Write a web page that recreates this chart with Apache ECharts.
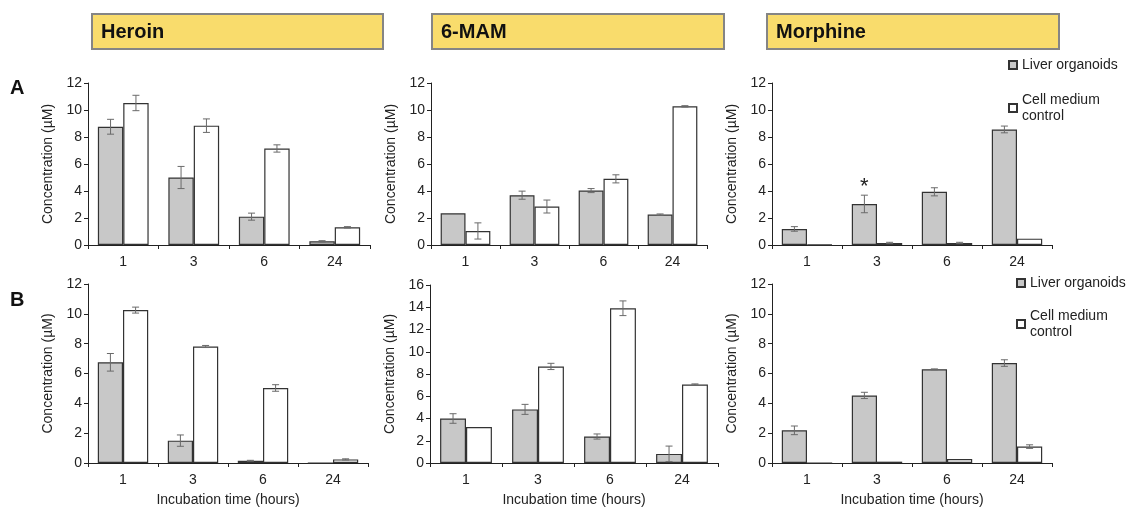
<!DOCTYPE html>
<html>
<head>
<meta charset="utf-8">
<script src="https://cdn.jsdelivr.net/npm/echarts@6/dist/echarts.min.js"></script>
<style>
* { margin: 0; padding: 0; }
body { background: #fff; }
#chart { width: 1129px; height: 508px; }
</style>
</head>
<body>
<div id="chart"></div>
<script>
// incubation time categories
const hours = ['1', '3', '6', '24'];

// row A
const heroinALiver = [8.76, 5.0, 2.1, 0.27];
const heroinALiverErr = [0.55, 0.82, 0.26, 0.05];
const heroinAMedium = [10.52, 8.84, 7.15, 1.31];
const heroinAMediumErr = [0.57, 0.5, 0.27, 0.05];
const mamALiver = [2.35, 3.69, 4.03, 2.25];
const mamALiverErr = [0, 0.3, 0.15, 0.05];
const mamAMedium = [1.04, 2.85, 4.9, 10.27];
const mamAMediumErr = [0.6, 0.48, 0.3, 0.05];
const morphALiver = [1.19, 3.04, 3.94, 8.56];
const morphALiverErr = [0.17, 0.65, 0.3, 0.25];
const morphAMedium = [0.03, 0.15, 0.15, 0.47];
const morphAMediumErr = [0, 0.05, 0.05, 0];
const morphAStar = ['', '*', '', ''];

// row B
const heroinBLiver = [6.75, 1.5, 0.15, 0];
const heroinBLiverErr = [0.59, 0.38, 0.03, 0];
const heroinBMedium = [10.25, 7.81, 5.03, 0.24];
const heroinBMediumErr = [0.2, 0.07, 0.22, 0.04];
const mamBLiver = [4.0, 4.82, 2.38, 0.82];
const mamBLiverErr = [0.43, 0.45, 0.23, 0.7];
const mamBMedium = [3.24, 8.68, 13.91, 7.06];
const mamBMediumErr = [0, 0.28, 0.66, 0.05];
const morphBLiver = [2.19, 4.53, 6.28, 6.7];
const morphBLiverErr = [0.29, 0.21, 0.03, 0.22];
const morphBMedium = [0, 0.09, 0.27, 1.1];
const morphBMediumErr = [0, 0, 0, 0.12];

const yMax = [12, 12, 12, 12, 16, 12];

const LIVER = 'Liver organoids';
const MEDIUM = 'Cell medium\ncontrol';
const GAP = 0.28;
const FONT = 'Liberation Sans, Arial, sans-serif';

const panels = [
  [heroinALiver, heroinALiverErr, heroinAMedium, heroinAMediumErr],
  [mamALiver, mamALiverErr, mamAMedium, mamAMediumErr],
  [morphALiver, morphALiverErr, morphAMedium, morphAMediumErr],
  [heroinBLiver, heroinBLiverErr, heroinBMedium, heroinBMediumErr],
  [mamBLiver, mamBLiverErr, mamBMedium, mamBMediumErr],
  [morphBLiver, morphBLiverErr, morphBMedium, morphBMediumErr]
];

const grids = [
  { left: 88, top: 83, width: 282, height: 162 },
  { left: 431, top: 83, width: 276, height: 162 },
  { left: 772, top: 83, width: 280, height: 162 },
  { left: 88, top: 284, width: 280, height: 181 },
  { left: 430, top: 285, width: 288, height: 181 },
  { left: 772, top: 284, width: 280, height: 182 }
];

// error bars drawn on top of the bars
function errRender(side) {
  return function (params, api) {
    const i = api.value(0);
    const v = api.value(1);
    const e = api.value(2);
    if (!e) return;
    const band = api.size([1, 0])[0];
    const bw = band * (1 - GAP) / 2;
    const x = api.coord([i, v])[0] + side * bw / 2;
    const top = api.coord([i, v + e])[1];
    const bot = api.coord([i, Math.max(v - e, 0)])[1];
    const cap = 3.5;
    const st = { stroke: '#6a6a6a', lineWidth: 1 };
    return {
      type: 'group',
      children: [
        { type: 'line', shape: { x1: x, y1: top, x2: x, y2: bot }, style: st },
        { type: 'line', shape: { x1: x - cap, y1: top, x2: x + cap, y2: top }, style: st },
        { type: 'line', shape: { x1: x - cap, y1: bot, x2: x + cap, y2: bot }, style: st }
      ]
    };
  };
}

const xAxes = [], yAxes = [], series = [];
panels.forEach(function (p, k) {
  xAxes.push({
    gridIndex: k,
    type: 'category',
    data: hours,
    name: k >= 3 ? 'Incubation time (hours)' : '',
    nameLocation: 'middle',
    nameGap: 30,
    nameTextStyle: { color: '#222', fontSize: 14, fontFamily: FONT },
    axisLine: { lineStyle: { color: '#222', width: 1 } },
    axisTick: { show: true, length: 4, lineStyle: { color: '#222' } },
    axisLabel: { color: '#222', fontSize: 14, fontFamily: FONT, margin: 10 }
  });
  yAxes.push({
    gridIndex: k,
    type: 'value',
    min: 0,
    max: yMax[k],
    interval: 2,
    name: 'Concentration (µM)',
    nameLocation: 'middle',
    nameGap: 33,
    nameRotate: 90,
    nameTextStyle: { color: '#222', fontSize: 14, fontFamily: FONT },
    splitLine: { show: false },
    axisLine: { show: true, lineStyle: { color: '#222', width: 1 } },
    axisTick: { show: true, length: 4, lineStyle: { color: '#222' } },
    axisLabel: { color: '#222', fontSize: 14, fontFamily: FONT, margin: 6 }
  });
  let liverData = p[0];
  if (k === 2) {
    liverData = p[0].map(function (v, i) {
      return morphAStar[i] ? {
        value: v,
        label: { show: true, formatter: morphAStar[i], position: 'top', distance: 6, fontSize: 22, color: '#222', fontFamily: FONT }
      } : v;
    });
  }
  series.push({
    name: LIVER, type: 'bar', xAxisIndex: k, yAxisIndex: k,
    barGap: '0%', barCategoryGap: (GAP * 100) + '%',
    itemStyle: { color: '#c8c8c8', borderColor: '#333', borderWidth: 1.2 },
    data: liverData
  });
  series.push({
    name: MEDIUM, type: 'bar', xAxisIndex: k, yAxisIndex: k,
    barGap: '0%', barCategoryGap: (GAP * 100) + '%',
    itemStyle: { color: '#ffffff', borderColor: '#333', borderWidth: 1.2 },
    data: p[2]
  });
  series.push({
    type: 'custom', xAxisIndex: k, yAxisIndex: k, z: 5,
    renderItem: errRender(-1),
    data: hours.map(function (h, i) { return [i, p[0][i], p[1][i]]; })
  });
  series.push({
    type: 'custom', xAxisIndex: k, yAxisIndex: k, z: 5,
    renderItem: errRender(1),
    data: hours.map(function (h, i) { return [i, p[2][i], p[3][i]]; })
  });
});

function legendAt(left, top, gap) {
  return {
    left: left, top: top, orient: 'vertical', padding: 0,
    icon: 'rect', itemWidth: 8, itemHeight: 8, itemGap: gap,
    selectedMode: false,
    textStyle: { color: '#222', fontSize: 14, fontFamily: FONT, lineHeight: 16 },
    data: [
      { name: LIVER },
      { name: MEDIUM, textStyle: { padding: [16, 0, 0, 0] } }
    ]
  };
}

function titleBox(x, w, text) {
  return [
    { type: 'rect', shape: { x: x, y: 14, width: w, height: 35 },
      style: { fill: '#f9dc6c', stroke: '#858585', lineWidth: 2 } },
    { type: 'text', x: x + 9, y: 32,
      style: { text: text, fill: '#111', font: 'bold 20px ' + FONT, textVerticalAlign: 'middle' } }
  ];
}

const chart = echarts.init(document.getElementById('chart'));
chart.setOption({
  backgroundColor: '#fff',
  animation: false,
  grid: grids,
  xAxis: xAxes,
  yAxis: yAxes,
  legend: [legendAt(1008, 57, 11), legendAt(1016, 275, 9)],
  graphic: [].concat(
    titleBox(92, 291, 'Heroin'),
    titleBox(432, 292, '6-MAM'),
    titleBox(767, 292, 'Morphine'),
    [
      { type: 'text', x: 10, y: 88, style: { text: 'A', fill: '#111', font: 'bold 20px ' + FONT, textVerticalAlign: 'middle' } },
      { type: 'text', x: 10, y: 300, style: { text: 'B', fill: '#111', font: 'bold 20px ' + FONT, textVerticalAlign: 'middle' } }
    ]
  ),
  series: series
});
</script>
</body>
</html>
